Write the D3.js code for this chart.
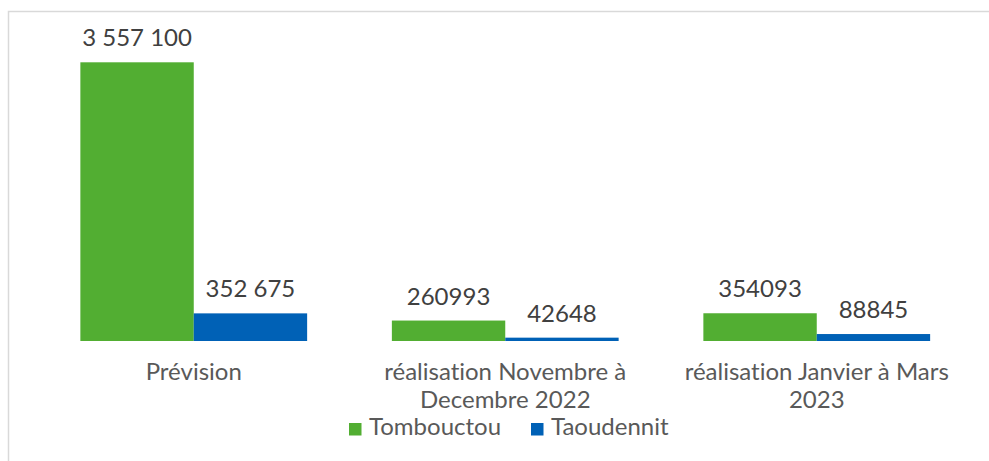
<!DOCTYPE html>
<html>
<head>
<meta charset="utf-8">
<script src="https://cdn.jsdelivr.net/npm/d3@7"></script>
<style>
  body { margin: 0; background: #fff; }
  svg { display: block; font-family: Lato, "Open Sans", sans-serif; font-variant-ligatures: none; }
</style>
</head>
<body>
<div id="chart"></div>
<script>
let categories = ["Prévision", "réalisation Novembre à|Decembre 2022", "réalisation Janvier à Mars|2023"];
let seriesNames = ["Tombouctou", "Taoudennit"];
let tombouctou = [3557100, 260993, 354093];
let taoudennit = [352675, 42648, 88845];
let valueLabels = [["3 557 100", "260993", "354093"], ["352 675", "42648", "88845"]];
let colors = ["#52ae32", "#0061b6"];

let width = 989, height = 461;
let baseline = 341, plotTop = 62.3;

let svg = d3.select("#chart").append("svg")
  .attr("width", width)
  .attr("height", height);

// chart frame
svg.append("path")
  .attr("d", "M8.5," + height + "V11.5H" + width)
  .attr("fill", "none")
  .attr("stroke", "#d9d9d9")
  .attr("stroke-width", 1.5);

let x = d3.scaleBand()
  .domain(categories)
  .range([38, 972.5])
  .paddingInner(0.272)
  .paddingOuter(0.136);

let xSub = d3.scaleBand()
  .domain(seriesNames)
  .range([0, x.bandwidth()]);

let y = d3.scaleLinear()
  .domain([0, 3557100])
  .range([baseline, plotTop]);

let series = [tombouctou, taoudennit];

series.forEach(function(vals, s){
  let g = svg.append("g");
  g.selectAll("rect")
    .data(vals)
    .enter().append("rect")
    .attr("x", (d, i) => x(categories[i]) + xSub(seriesNames[s]))
    .attr("y", d => y(d))
    .attr("width", xSub.bandwidth())
    .attr("height", d => baseline - y(d))
    .attr("fill", colors[s]);

  g.selectAll("text")
    .data(vals)
    .enter().append("text")
    .attr("x", (d, i) => x(categories[i]) + xSub(seriesNames[s]) + xSub.bandwidth() / 2)
    .attr("y", d => y(d) - 16)
    .attr("text-anchor", "middle")
    .attr("font-size", 24)
    .attr("fill", "#404040")
    .text((d, i) => valueLabels[s][i]);
});

// category labels
let cat = svg.append("g");
categories.forEach(function(c){
  let lines = c.split("|");
  let t = cat.append("text")
    .attr("text-anchor", "middle")
    .attr("font-size", 24)
    .attr("fill", "#595959");
  lines.forEach(function(l, k){
    t.append("tspan")
      .attr("x", x(c) + x.bandwidth() / 2)
      .attr("y", 380 + k * 28)
      .text(l);
  });
});

// legend
let legendX = [349, 531];
let legend = svg.append("g");
seriesNames.forEach(function(n, s){
  legend.append("rect")
    .attr("x", legendX[s])
    .attr("y", 423)
    .attr("width", 12.5)
    .attr("height", 12.5)
    .attr("fill", colors[s]);
  legend.append("text")
    .attr("x", legendX[s] + 20)
    .attr("y", 435)
    .attr("font-size", 24)
    .attr("fill", "#595959")
    .text(n);
});
</script>
</body>
</html>
